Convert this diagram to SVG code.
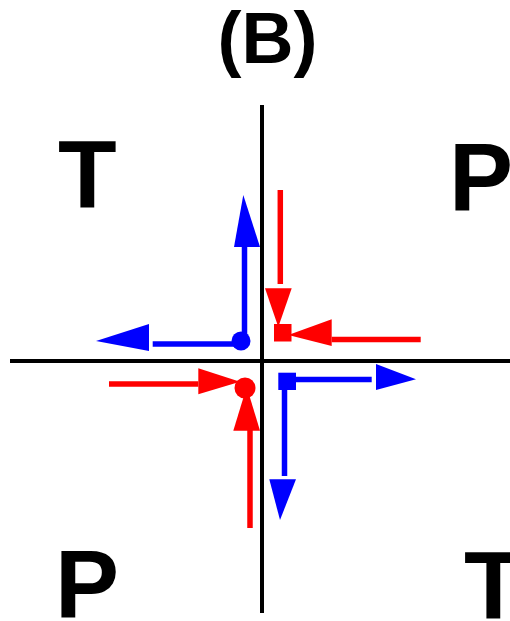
<svg xmlns="http://www.w3.org/2000/svg" width="510" height="621" viewBox="0 0 510 621">
<style>
.lbl{font-family:"Liberation Sans",Arial,sans-serif;font-weight:bold;fill:#000}
.axis{stroke:#000;stroke-width:4;fill:none}
.bl{stroke:#0000ff;stroke-width:5.5;fill:none}
.rd{stroke:#ff0000;stroke-width:5.5;fill:none}
.bh{fill:#0000ff;stroke:none}
.rh{fill:#ff0000;stroke:none}
</style>
<rect width="510" height="621" fill="#fff"/>
<g id="title"><text class="lbl" x="267.5" y="63" font-size="72" text-anchor="middle">(B)</text></g>
<g id="axes">
<line class="axis" x1="262" y1="105" x2="262" y2="613"/>
<line class="axis" x1="10" y1="361" x2="510" y2="361"/>
</g>
<g id="T-top-left"><text class="lbl" x="58" y="208" font-size="96">T</text></g>
<g id="P-top-right"><text class="lbl" x="449" y="210" font-size="96">P</text></g>
<g id="P-bottom-left"><text class="lbl" x="55" y="617" font-size="96">P</text></g>
<g id="T-bottom-right"><text class="lbl" x="464" y="619" font-size="96">T</text></g>
<g id="connectors">
<g id="blue-top-left">
<line class="bl" x1="244.5" y1="341" x2="244.5" y2="246"/>
<polygon class="bh" points="234,247 260,247 243.3,195"/>
<line class="bl" x1="238" y1="344" x2="152.7" y2="344"/>
<polygon class="bh" points="149,324 149,351 96,341"/>
<circle class="bh" cx="241" cy="341" r="9.5"/>
</g>
<g id="red-top-right">
<line class="rd" x1="280.3" y1="190" x2="280.3" y2="284"/>
<polygon class="rh" points="265,288.3 291.7,288.3 278.3,327"/>
<line class="rd" x1="331.7" y1="339.5" x2="420.7" y2="339.5"/>
<polygon class="rh" points="331.7,319.3 331.7,346 288.3,335"/>
<rect class="rh" x="274" y="324" width="17.5" height="17.5"/>
</g>
<g id="red-bottom-left">
<line class="rd" x1="109" y1="384" x2="198.3" y2="384"/>
<polygon class="rh" points="198.3,368.3 198.3,394.3 240,381.7"/>
<line class="rd" x1="250" y1="430" x2="250" y2="528"/>
<polygon class="rh" points="233.3,430.7 260,430.7 246.7,386.7"/>
<circle class="rh" cx="245" cy="388" r="10.5"/>
</g>
<g id="blue-bottom-right">
<line class="bl" x1="296" y1="379.5" x2="371.7" y2="379.5"/>
<polygon class="bh" points="376,364 376,390 416,379.3"/>
<line class="bl" x1="284.5" y1="389" x2="284.5" y2="476"/>
<polygon class="bh" points="269.3,479.3 296,479.3 280,520"/>
<rect class="bh" x="278.3" y="372.7" width="17.7" height="17.3"/>
</g>
</g>
</svg>
